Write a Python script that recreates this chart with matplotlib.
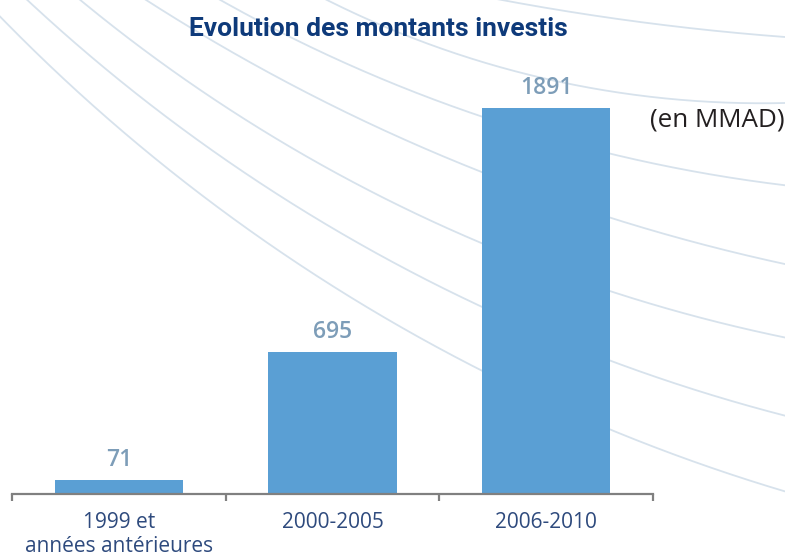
import numpy as np
import matplotlib
matplotlib.use("Agg")
import matplotlib.pyplot as plt

# ---- data ----
categories = ["1999 et\nannées antérieures", "2000-2005", "2006-2010"]
values = [71, 695, 1891]
value_labels = ["71", "695", "1891"]
title = "Evolution des montants investis"
unit_label = "(en MMAD)"

# ---- decorative background arcs (pixel anchors, image coords) ----
arc_points = [
    [(502, 0), (640, 22), (785, 37)],
    [(327, 0), (400, 33), (785, 103)],
    [(220, 0), (385, 80), (485, 117), (612, 155), (785, 185)],
    [(143, 0), (385, 130), (485, 167), (612, 223), (715, 250), (785, 262)],
    [(80, 0), (400, 205), (612, 293), (785, 337)],
    [(27, 0), (385, 257), (483, 307), (612, 363), (785, 415)],
    [(0, 20), (120, 125), (280, 250), (385, 318), (483, 373), (612, 432), (785, 490)],
]

W, H = 785, 556
fig = plt.figure(figsize=(W / 100, H / 100), dpi=100)
fig.patch.set_facecolor("white")

bg = fig.add_axes([0, 0, 1, 1], zorder=0)
bg.set_xlim(0, W)
bg.set_ylim(H, 0)
bg.axis("off")


def fit_circle(pts):
    p = np.asarray(pts, dtype=float)
    x, y = p[:, 0], p[:, 1]
    A = np.column_stack([x, y, np.ones_like(x)])
    b = -(x ** 2 + y ** 2)
    D, E, F = np.linalg.lstsq(A, b, rcond=None)[0]
    cx, cy = -D / 2, -E / 2
    r = np.sqrt(cx ** 2 + cy ** 2 - F)
    return cx, cy, r


t = np.linspace(0, 2 * np.pi, 4000)
for pts in arc_points:
    cx, cy, r = fit_circle(pts)
    bg.plot(cx + r * np.cos(t), cy + r * np.sin(t), color="#D7E2EC", lw=1.3,
            solid_capstyle="round")

# ---- main bar chart ----
ax = fig.add_axes([12 / W, 1 - 494 / H, 641 / W, 408 / H], zorder=1)
ax.patch.set_alpha(0)
x = np.arange(len(categories))
ax.bar(x, values, width=0.6, color="#5A9FD4", zorder=2)
ax.set_xlim(-0.5, 2.5)
ax.set_ylim(0, 2000)

for s in ["left", "top", "right"]:
    ax.spines[s].set_visible(False)
ax.spines["bottom"].set_color("#808080")
ax.spines["bottom"].set_linewidth(1.6)
ax.set_yticks([])

ax.set_xticks(np.arange(len(categories) + 1) - 0.5)
ax.set_xticklabels([])
ax.tick_params(axis="x", which="major", length=5, width=1.6, color="#808080",
               direction="out")
ax.set_xticks(x, minor=True)
ax.set_xticklabels(categories, minor=True, fontsize=15, color="#2E4A7D",
                   family="Open Sans", linespacing=1.2)
ax.tick_params(axis="x", which="minor", length=0, pad=13)

for xi, v, lbl in zip(x, values, value_labels):
    ax.annotate(lbl, (xi, v), xytext=(0, 10), textcoords="offset points",
                ha="center", va="baseline", fontsize=16.5, fontweight="semibold",
                color="#7D9DB8", family="Open Sans")

fig.text(378 / W, 1 - 29 / H, title, ha="center", va="center", fontsize=19,
         fontweight="bold", color="#0E3A7A", family="Roboto")
fig.text(650 / W, 1 - 120 / H, unit_label, ha="left", va="center", fontsize=18.7,
         color="#231F20", family="Open Sans")

fig.savefig("out.png", dpi=100)
